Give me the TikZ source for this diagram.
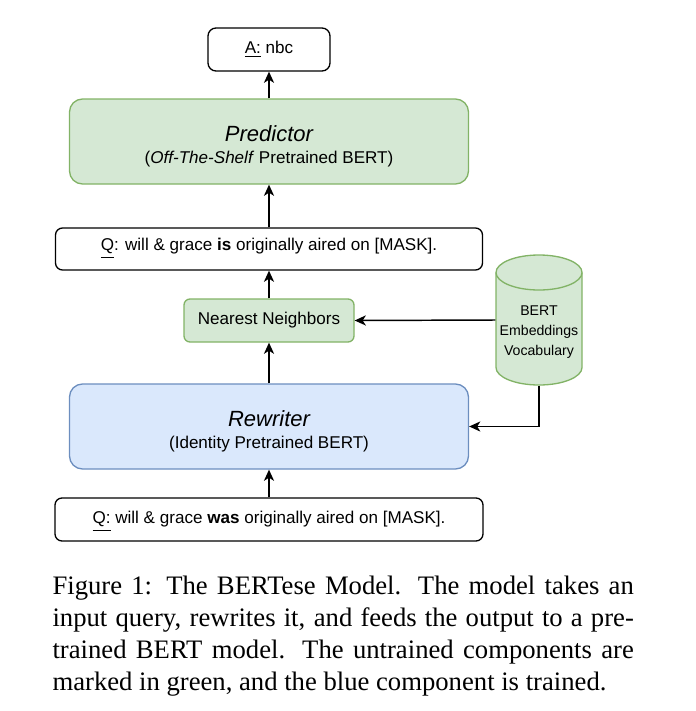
\documentclass[tikz,border=0pt]{standalone}
\usepackage{fontspec}
\setmainfont{Liberation Serif}
\setsansfont{Liberation Sans}
\usetikzlibrary{arrows.meta}

\newlength\px
\setlength\px{0.375pt}
\newcommand\capline[1]{\makebox[218pt][s]{#1}}
\definecolor{grfill}{HTML}{D5E8D4}
\definecolor{grline}{HTML}{82B366}
\definecolor{blfill}{HTML}{DAE8FC}
\definecolor{blline}{HTML}{6C8EBF}

\begin{document}
\begin{tikzpicture}[x=0.375pt, y=-0.375pt,
  every node/.style={font=\sffamily\fontsize{6.4}{7.7}\selectfont},
  plainbox/.style={draw, rounded corners=7\px, line width=0.5pt, align=center, inner sep=0pt},
  greenbox/.style={plainbox, draw=grline, fill=grfill},
  bluebox/.style={plainbox, draw=blline, fill=blfill},
  flow/.style={-{Stealth[length=4.2pt, width=3.8pt, inset=1.2pt]}, line width=0.55pt}]
  % Fix the page size
  \useasboundingbox (0,0) rectangle (696,711);

  % Boxes, top to bottom
  \node[plainbox, rounded corners=8\px, minimum width=122\px, minimum height=43\px] (ans) at (269,49.5) {\underline{A:} nbc};
  \node[greenbox, rounded corners=13\px, minimum width=399\px, minimum height=85\px] (pred) at (269,141.5)
    {\rule{0pt}{9.5pt}{\fontsize{8.25}{9.4}\selectfont\itshape Predictor}\\[0.8pt](\textit{Off-The-Shelf} Pretrained BERT)};
  \node[plainbox, minimum width=427\px, minimum height=42\px] (qis) at (269,249)
    {\underline{Q}: will \& grace \textbf{is} originally aired on [MASK].};
  \node[greenbox, rounded corners=6\px, minimum width=170\px, minimum height=43\px] (nn) at (269,320.5) {Nearest Neighbors};
  \node[bluebox, rounded corners=13\px, minimum width=399\px, minimum height=85\px] (rew) at (269,426.5)
    {\rule{0pt}{9.5pt}{\fontsize{8.25}{9.4}\selectfont\itshape Rewriter}\\[0.8pt](Identity Pretrained BERT)};
  \node[plainbox, minimum width=428\px, minimum height=43\px] (qwas) at (269,519.5)
    {\rule{0pt}{6pt}\underline{Q:} will \& grace \textbf{was} originally aired on [MASK].};

  % Vocabulary cylinder
  \node[minimum width=86\px, minimum height=130\px, inner sep=0pt] (voc) at (539,320) {};
  \filldraw[draw=grline, fill=grfill, line width=0.5pt] (496,272.5) -- (496,367.5)
    arc[start angle=180, end angle=360, x radius=16.125pt, y radius=6.5625pt] -- (582,272.5)
    arc[start angle=0, end angle=180, x radius=16.125pt, y radius=6.5625pt] -- cycle;
  \draw[draw=grline, line width=0.5pt] (496,272.5)
    arc[start angle=180, end angle=360, x radius=16.125pt, y radius=6.5625pt];
  \node[align=center, font=\sffamily\fontsize{5.3}{7.5}\selectfont] (voclbl) at (539,332) {BERT\\Embeddings\\Vocabulary};

  % Connectors
  \draw[flow] (qwas.north) -- (rew.south);
  \draw[flow] (rew.north) -- (nn.south);
  \draw[flow] (nn.north) -- (qis.south);
  \draw[flow] (qis.north) -- (pred.south);
  \draw[flow] (pred.north) -- (ans.south);
  \draw[flow] (voc.west) -- (nn.east);
  \draw[flow] (voc.south) |- (rew.east);

  % Caption
  \node[anchor=north west, inner sep=0pt, align=left, font=\rmfamily\fontsize{10}{12}\selectfont] (cap) at (52,575)
    {\capline{Figure 1: The BERTese Model. The model takes an}\\
     \capline{input query, rewrites it, and feeds the output to a pre-}\\
     \capline{trained BERT model. The untrained components are}\\
     marked in green, and the blue component is trained.};
\end{tikzpicture}
\end{document}
